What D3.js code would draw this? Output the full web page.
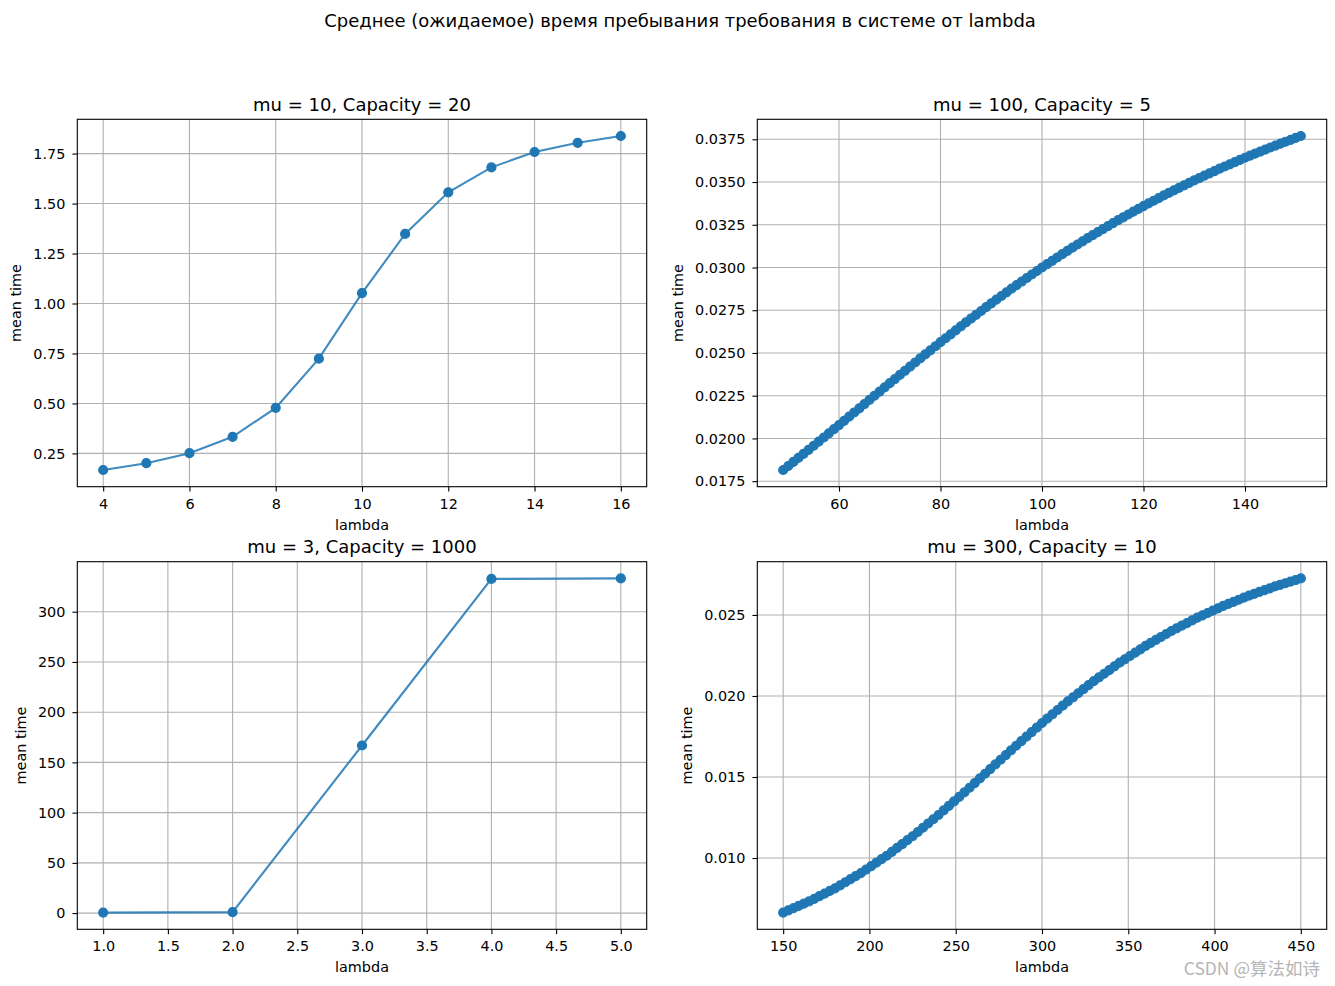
<!DOCTYPE html>
<html>
<head>
<meta charset="utf-8">
<script src="https://cdn.jsdelivr.net/npm/d3@7"></script>
<style>
  body { margin: 0; background: #fff; }
  text { font-family: "DejaVu Sans", sans-serif; fill: #000; }
</style>
</head>
<body>
<svg id="chart" width="1335" height="986"></svg>
<script>
// Figure title and labels
var suptitle = "Среднее (ожидаемое) время пребывания требования в системе от lambda";
var xLabel = "lambda";
var yLabel = "mean time";

// mu = 10, Capacity = 20
var lambda1 = [4, 5, 6, 7, 8, 9, 10, 11, 12, 13, 14, 15, 16];
var time1 = [0.167, 0.201, 0.251, 0.333, 0.478, 0.724, 1.052, 1.348, 1.556, 1.681, 1.758, 1.804, 1.838];
var xTicks1 = [4, 6, 8, 10, 12, 14, 16];
var yTicks1 = [0.25, 0.5, 0.75, 1.0, 1.25, 1.5, 1.75];

// mu = 100, Capacity = 5
var lambda2 = [49, 50, 51, 52, 53, 54, 55, 56, 57, 58, 59, 60, 61, 62, 63, 64, 65, 66, 67, 68, 69, 70,
  71, 72, 73, 74, 75, 76, 77, 78, 79, 80, 81, 82, 83, 84, 85, 86, 87, 88, 89, 90, 91, 92, 93, 94, 95,
  96, 97, 98, 99, 100, 101, 102, 103, 104, 105, 106, 107, 108, 109, 110, 111, 112, 113, 114, 115, 116,
  117, 118, 119, 120, 121, 122, 123, 124, 125, 126, 127, 128, 129, 130, 131, 132, 133, 134, 135, 136,
  137, 138, 139, 140, 141, 142, 143, 144, 145, 146, 147, 148, 149, 150, 151];
var time2 = [0.018154, 0.018387, 0.018624, 0.018861, 0.019098, 0.019335, 0.019572, 0.019814, 0.020056,
  0.020298, 0.020541, 0.020784, 0.021029, 0.021274, 0.021519, 0.021764, 0.022009, 0.022254, 0.022499,
  0.022743, 0.022988, 0.023232, 0.023474, 0.023716, 0.023959, 0.024201, 0.024443, 0.024681, 0.024918,
  0.025156, 0.025393, 0.025631, 0.025862, 0.026093, 0.026324, 0.026555, 0.026786, 0.027009, 0.027233,
  0.027456, 0.027680, 0.027903, 0.028117, 0.028332, 0.028546, 0.028761, 0.028975, 0.029180, 0.029385,
  0.029590, 0.029795, 0.030000, 0.030195, 0.030390, 0.030585, 0.030780, 0.030975, 0.031160, 0.031345,
  0.031529, 0.031714, 0.031899, 0.032074, 0.032248, 0.032423, 0.032597, 0.032772, 0.032937, 0.033101,
  0.033266, 0.033430, 0.033595, 0.033750, 0.033905, 0.034059, 0.034214, 0.034369, 0.034515, 0.034660,
  0.034806, 0.034951, 0.035097, 0.035234, 0.035370, 0.035507, 0.035643, 0.035780, 0.035908, 0.036036,
  0.036164, 0.036292, 0.036420, 0.036540, 0.036660, 0.036780, 0.036900, 0.037020, 0.037133, 0.037245,
  0.037358, 0.037470, 0.037583, 0.037693];
var xTicks2 = [60, 80, 100, 120, 140];
var yTicks2 = [0.0175, 0.02, 0.0225, 0.025, 0.0275, 0.03, 0.0325, 0.035, 0.0375];

// mu = 3, Capacity = 1000
var lambda3 = [1, 2, 3, 4, 5];
var time3 = [0.5, 1.0, 166.83, 332.67, 333.17];
var xTicks3 = [1.0, 1.5, 2.0, 2.5, 3.0, 3.5, 4.0, 4.5, 5.0];
var yTicks3 = [0, 50, 100, 150, 200, 250, 300];

// mu = 300, Capacity = 10
var lambda4 = [150, 153, 156, 159, 162, 165, 168, 171, 174, 177, 180, 183, 186, 189, 192, 195, 198,
  201, 204, 207, 210, 213, 216, 219, 222, 225, 228, 231, 234, 237, 240, 243, 246, 249, 252, 255, 258,
  261, 264, 267, 270, 273, 276, 279, 282, 285, 288, 291, 294, 297, 300, 303, 306, 309, 312, 315, 318,
  321, 324, 327, 330, 333, 336, 339, 342, 345, 348, 351, 354, 357, 360, 363, 366, 369, 372, 375, 378,
  381, 384, 387, 390, 393, 396, 399, 402, 405, 408, 411, 414, 417, 420, 423, 426, 429, 432, 435, 438,
  441, 444, 447, 450];
var time4 = [0.0066341, 0.0067718, 0.0069096, 0.0070473, 0.0071851, 0.0073228, 0.0074844, 0.0076459,
  0.0078075, 0.0079690, 0.0081306, 0.0083183, 0.0085059, 0.0086936, 0.0088812, 0.0090689, 0.0092836,
  0.0094982, 0.0097129, 0.0099275, 0.0101422, 0.0103827, 0.0106232, 0.0108637, 0.0111042, 0.0113447,
  0.0116072, 0.0118696, 0.0121321, 0.0123945, 0.0126570, 0.0129358, 0.0132146, 0.0134934, 0.0137722,
  0.0140510, 0.0143386, 0.0146262, 0.0149139, 0.0152015, 0.0154891, 0.0157771, 0.0160651, 0.0163530,
  0.0166410, 0.0169290, 0.0172099, 0.0174907, 0.0177716, 0.0180524, 0.0183333, 0.0186006, 0.0188679,
  0.0191352, 0.0194025, 0.0196698, 0.0199189, 0.0201680, 0.0204172, 0.0206663, 0.0209154, 0.0211435,
  0.0213716, 0.0215997, 0.0218278, 0.0220559, 0.0222621, 0.0224684, 0.0226746, 0.0228809, 0.0230871,
  0.0232716, 0.0234561, 0.0236407, 0.0238252, 0.0240097, 0.0241736, 0.0243375, 0.0245015, 0.0246654,
  0.0248293, 0.0249743, 0.0251193, 0.0252642, 0.0254092, 0.0255542, 0.0256821, 0.0258099, 0.0259378,
  0.0260656, 0.0261935, 0.0263063, 0.0264191, 0.0265319, 0.0266447, 0.0267575, 0.0268570, 0.0269564,
  0.0270559, 0.0271554, 0.0272549];
var xTicks4 = [150, 200, 250, 300, 350, 400, 450];
var yTicks4 = [0.010, 0.015, 0.020, 0.025];

var blue = "#1f77b4";
var tickLen = 4.9;
var tickPad = 7;

var svg = d3.select("#chart");

// Figure title
svg.append("text")
  .attr("x", 680)
  .attr("y", 27)
  .attr("text-anchor", "middle")
  .style("font-size", "18px")
  .text(suptitle);

// Panel layout
var panels = [
  { title: "mu = 10, Capacity = 20", xs: lambda1, ys: time1, xTicks: xTicks1, yTicks: yTicks1,
    xFmt: d3.format("d"), yFmt: d3.format(".2f"), left: 77.3, right: 646.7, top: 119.3, bottom: 486.7 },
  { title: "mu = 100, Capacity = 5", xs: lambda2, ys: time2, xTicks: xTicks2, yTicks: yTicks2,
    xFmt: d3.format("d"), yFmt: d3.format(".4f"), left: 757.3, right: 1326.7, top: 119.3, bottom: 486.7 },
  { title: "mu = 3, Capacity = 1000", xs: lambda3, ys: time3, xTicks: xTicks3, yTicks: yTicks3,
    xFmt: d3.format(".1f"), yFmt: d3.format("d"), left: 77.3, right: 646.7, top: 561.7, bottom: 929.3 },
  { title: "mu = 300, Capacity = 10", xs: lambda4, ys: time4, xTicks: xTicks4, yTicks: yTicks4,
    xFmt: d3.format("d"), yFmt: d3.format(".3f"), left: 757.3, right: 1326.7, top: 561.7, bottom: 929.3 }
];

// 5% margins like matplotlib
function padDomain(ext) {
  var m = (ext[1] - ext[0]) * 0.05;
  return [ext[0] - m, ext[1] + m];
}

function styleAxis(axisG) {
  axisG.attr("font-size", null).attr("font-family", null);
  axisG.select(".domain").remove();
  axisG.selectAll("line").attr("stroke", "#000").attr("stroke-width", 1.1);
  axisG.selectAll("text").style("font-size", "14.4px").attr("fill", "#000");
}

panels.forEach(function(p) {
  var g = svg.append("g");

  var x = d3.scaleLinear().domain(padDomain(d3.extent(p.xs))).range([p.left, p.right]);
  var y = d3.scaleLinear().domain(padDomain(d3.extent(p.ys))).range([p.bottom, p.top]);

  // grid lines
  g.selectAll(".gx").data(p.xTicks).enter().append("line")
    .attr("x1", d => x(d)).attr("x2", d => x(d))
    .attr("y1", p.top).attr("y2", p.bottom)
    .attr("stroke", "#b0b0b0").attr("stroke-width", 1.1);
  g.selectAll(".gy").data(p.yTicks).enter().append("line")
    .attr("x1", p.left).attr("x2", p.right)
    .attr("y1", d => y(d)).attr("y2", d => y(d))
    .attr("stroke", "#b0b0b0").attr("stroke-width", 1.1);

  // axes
  var xAxis = g.append("g")
    .attr("transform", `translate(0, ${p.bottom})`)
    .call(d3.axisBottom(x).tickValues(p.xTicks).tickFormat(p.xFmt)
      .tickSizeInner(tickLen).tickSizeOuter(0).tickPadding(tickPad));
  styleAxis(xAxis);

  var yAxis = g.append("g")
    .attr("transform", `translate(${p.left}, 0)`)
    .call(d3.axisLeft(y).tickValues(p.yTicks).tickFormat(p.yFmt)
      .tickSizeInner(tickLen).tickSizeOuter(0).tickPadding(tickPad));
  styleAxis(yAxis);

  // line and markers
  var line = d3.line().x((d, i) => x(p.xs[i])).y(d => y(d));
  g.append("path")
    .datum(p.ys)
    .attr("d", line)
    .attr("fill", "none")
    .attr("stroke", blue)
    .attr("stroke-opacity", 0.85)
    .attr("stroke-width", 2.1);

  g.selectAll(".dot").data(p.ys).enter().append("circle")
    .attr("cx", (d, i) => x(p.xs[i]))
    .attr("cy", d => y(d))
    .attr("r", 4.5)
    .attr("fill", blue)
    .attr("stroke", blue)
    .attr("stroke-width", 1.2);

  // frame
  g.append("rect")
    .attr("x", p.left).attr("y", p.top)
    .attr("width", p.right - p.left).attr("height", p.bottom - p.top)
    .attr("fill", "none").attr("stroke", "#000").attr("stroke-width", 1.1);

  // titles and labels
  g.append("text")
    .attr("x", (p.left + p.right) / 2)
    .attr("y", p.top - 8.3)
    .attr("text-anchor", "middle")
    .style("font-size", "18px")
    .text(p.title);

  g.append("text")
    .attr("x", (p.left + p.right) / 2)
    .attr("y", p.bottom + 43)
    .attr("text-anchor", "middle")
    .style("font-size", "14.4px")
    .text(xLabel);

  // getBBox is in the axis group's own coordinates, so add its offset
  var box = yAxis.node().getBBox();
  var lx = p.left + box.x - 16.5;
  var ly = (p.top + p.bottom) / 2;
  g.append("text")
    .attr("transform", `translate(${lx}, ${ly}) rotate(-90)`)
    .attr("text-anchor", "middle")
    .attr("dy", "0.32em")
    .style("font-size", "14.4px")
    .text(yLabel);
});

// watermark
svg.append("text")
  .attr("x", 1320)
  .attr("y", 975)
  .attr("text-anchor", "end")
  .style("font-family", "'Noto Sans CJK SC', 'DejaVu Sans', sans-serif")
  .style("font-size", "17.5px")
  .style("fill", "#b5b5b5")
  .text("CSDN @算法如诗");
</script>
</body>
</html>
